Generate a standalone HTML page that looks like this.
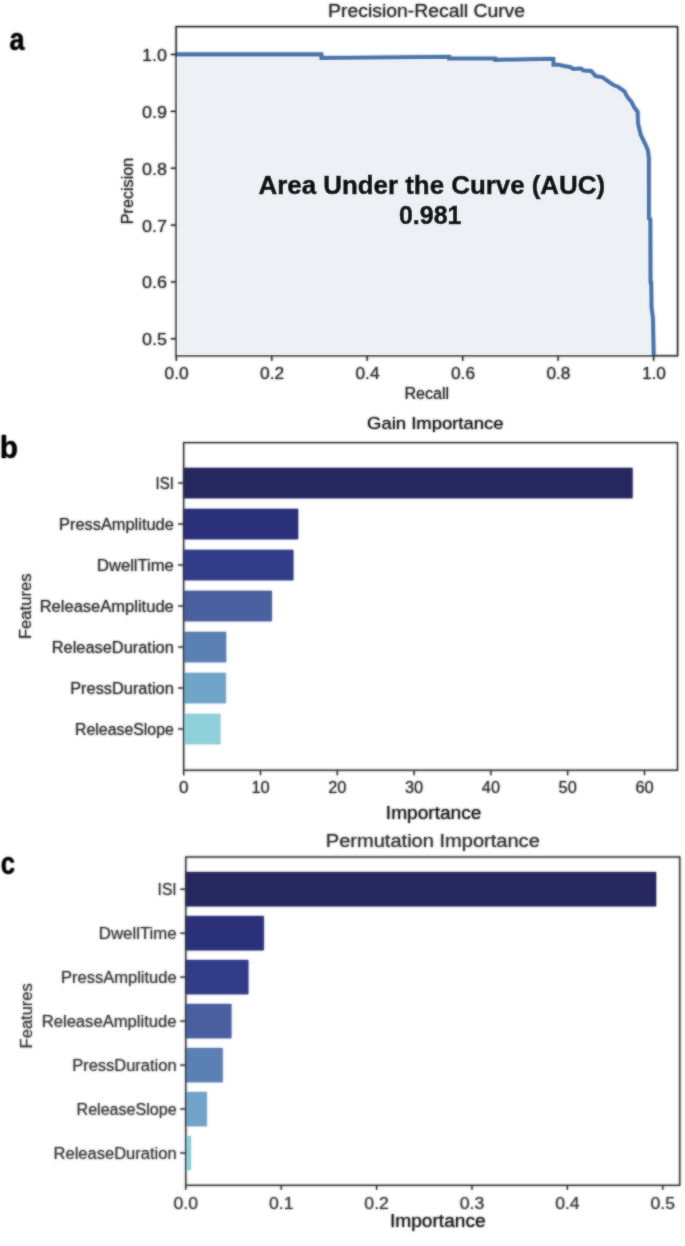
<!DOCTYPE html>
<html><head><meta charset="utf-8"><style>
html,body{margin:0;padding:0;background:#fff;}
svg{display:block;font-family:"Liberation Sans", sans-serif;}

</style></head><body><div id="w">
<svg width="685" height="1246" viewBox="0 0 685 1246">
<defs><filter id="bl" x="-2%" y="-2%" width="104%" height="104%"><feGaussianBlur stdDeviation="0.8"/></filter></defs>
<g filter="url(#bl)">
<text x="9.6" y="49.5" font-size="30.5" text-anchor="start" fill="#000" font-weight="700" textLength="15.0" lengthAdjust="spacingAndGlyphs">a</text>
<text x="-0.3" y="458.4" font-size="31" text-anchor="start" fill="#000" font-weight="700" textLength="18.2" lengthAdjust="spacingAndGlyphs">b</text>
<text x="0.8" y="873.8" font-size="30.5" text-anchor="start" fill="#000" font-weight="700" textLength="14.3" lengthAdjust="spacingAndGlyphs">c</text>
<polygon points="176.0,54.5 321.3,54.5 321.3,58.1 449.0,56.8 449.0,58.5 495.2,58.6 495.2,60.0 552.4,58.9 553.3,59.1 553.3,64.9 558.5,64.9 564.1,66.1 570.5,67.3 572.9,69.1 581.0,68.7 583.4,70.6 591.1,71.1 595.5,76.2 602.5,77.5 608.6,81.9 613.9,85.4 618.3,87.1 624.4,91.5 627.0,96.8 631.4,102.0 634.0,107.3 637.5,111.7 637.9,123.7 640.7,135.0 646.0,146.0 647.8,150.5 648.7,157.4 648.8,218.5 650.2,219.3 650.4,282.2 651.1,282.4 651.4,307.8 652.8,318.0 653.6,355.8 176.1,355.8" fill="#edf1f5"/>
<polyline points="176.0,54.5 321.3,54.5 321.3,58.1 449.0,56.8 449.0,58.5 495.2,58.6 495.2,60.0 552.4,58.9 553.3,59.1 553.3,64.9 558.5,64.9 564.1,66.1 570.5,67.3 572.9,69.1 581.0,68.7 583.4,70.6 591.1,71.1 595.5,76.2 602.5,77.5 608.6,81.9 613.9,85.4 618.3,87.1 624.4,91.5 627.0,96.8 631.4,102.0 634.0,107.3 637.5,111.7 637.9,123.7 640.7,135.0 646.0,146.0 647.8,150.5 648.7,157.4 648.8,218.5 650.2,219.3 650.4,282.2 651.1,282.4 651.4,307.8 652.8,318.0 653.6,355.8" fill="none" stroke="#4672aa" stroke-width="3.8" stroke-linejoin="miter"/>
<rect x="176.1" y="26.6" width="501.5" height="329.2" fill="none" stroke="#222" stroke-width="1.25"/>
<line x1="170.8" y1="54.5" x2="176.1" y2="54.5" stroke="#222" stroke-width="1.25"/>
<text x="167.0" y="61.0" font-size="16" text-anchor="end" fill="#2e2e2e" textLength="25.0" lengthAdjust="spacingAndGlyphs">1.0</text>
<line x1="170.8" y1="111.4" x2="176.1" y2="111.4" stroke="#222" stroke-width="1.25"/>
<text x="167.0" y="117.9" font-size="16" text-anchor="end" fill="#2e2e2e" textLength="25.0" lengthAdjust="spacingAndGlyphs">0.9</text>
<line x1="170.8" y1="168.2" x2="176.1" y2="168.2" stroke="#222" stroke-width="1.25"/>
<text x="167.0" y="174.7" font-size="16" text-anchor="end" fill="#2e2e2e" textLength="25.0" lengthAdjust="spacingAndGlyphs">0.8</text>
<line x1="170.8" y1="225.1" x2="176.1" y2="225.1" stroke="#222" stroke-width="1.25"/>
<text x="167.0" y="231.6" font-size="16" text-anchor="end" fill="#2e2e2e" textLength="25.0" lengthAdjust="spacingAndGlyphs">0.7</text>
<line x1="170.8" y1="281.9" x2="176.1" y2="281.9" stroke="#222" stroke-width="1.25"/>
<text x="167.0" y="288.4" font-size="16" text-anchor="end" fill="#2e2e2e" textLength="25.0" lengthAdjust="spacingAndGlyphs">0.6</text>
<line x1="170.8" y1="338.8" x2="176.1" y2="338.8" stroke="#222" stroke-width="1.25"/>
<text x="167.0" y="345.3" font-size="16" text-anchor="end" fill="#2e2e2e" textLength="25.0" lengthAdjust="spacingAndGlyphs">0.5</text>
<line x1="176.3" y1="355.8" x2="176.3" y2="360.8" stroke="#222" stroke-width="1.25"/>
<text x="176.6" y="378.6" font-size="16" text-anchor="middle" fill="#2e2e2e" textLength="24.0" lengthAdjust="spacingAndGlyphs">0.0</text>
<line x1="271.8" y1="355.8" x2="271.8" y2="360.8" stroke="#222" stroke-width="1.25"/>
<text x="272.1" y="378.6" font-size="16" text-anchor="middle" fill="#2e2e2e" textLength="24.0" lengthAdjust="spacingAndGlyphs">0.2</text>
<line x1="367.2" y1="355.8" x2="367.2" y2="360.8" stroke="#222" stroke-width="1.25"/>
<text x="367.5" y="378.6" font-size="16" text-anchor="middle" fill="#2e2e2e" textLength="24.0" lengthAdjust="spacingAndGlyphs">0.4</text>
<line x1="462.7" y1="355.8" x2="462.7" y2="360.8" stroke="#222" stroke-width="1.25"/>
<text x="463.0" y="378.6" font-size="16" text-anchor="middle" fill="#2e2e2e" textLength="24.0" lengthAdjust="spacingAndGlyphs">0.6</text>
<line x1="558.1" y1="355.8" x2="558.1" y2="360.8" stroke="#222" stroke-width="1.25"/>
<text x="558.4" y="378.6" font-size="16" text-anchor="middle" fill="#2e2e2e" textLength="24.0" lengthAdjust="spacingAndGlyphs">0.8</text>
<line x1="653.6" y1="355.8" x2="653.6" y2="360.8" stroke="#222" stroke-width="1.25"/>
<text x="653.9" y="378.6" font-size="16" text-anchor="middle" fill="#2e2e2e" textLength="24.0" lengthAdjust="spacingAndGlyphs">1.0</text>
<text x="426.8" y="398.9" font-size="16" text-anchor="middle" fill="#2a2a2a" textLength="44.8" lengthAdjust="spacingAndGlyphs">Recall</text>
<text x="133.2" y="191.0" font-size="16.5" text-anchor="middle" fill="#2a2a2a" textLength="66.5" lengthAdjust="spacingAndGlyphs" transform="rotate(-90 133.2 191.0)">Precision</text>
<text x="426.6" y="16.9" font-size="18.7" text-anchor="middle" fill="#2a2a2a" textLength="197.0" lengthAdjust="spacingAndGlyphs">Precision-Recall Curve</text>
<text x="431.8" y="193.8" font-size="26" text-anchor="middle" fill="#000" font-weight="700" textLength="346.5" lengthAdjust="spacingAndGlyphs" stroke="#000" stroke-width="0.5">Area Under the Curve (AUC)</text>
<text x="430.2" y="224.0" font-size="26" text-anchor="middle" fill="#000" font-weight="700" textLength="62.5" lengthAdjust="spacingAndGlyphs" stroke="#000" stroke-width="0.5">0.981</text>
<rect x="183.7" y="467.9" width="448.8" height="30.3" fill="#27285f"/>
<line x1="178.1" y1="483.0" x2="183.7" y2="483.0" stroke="#2e2e2e" stroke-width="1.2"/>
<text x="173.8" y="489.2" font-size="16" text-anchor="end" fill="#333333" textLength="18.2" lengthAdjust="spacingAndGlyphs">ISI</text>
<rect x="183.7" y="508.9" width="114.4" height="30.3" fill="#2c307a"/>
<line x1="178.1" y1="524.0" x2="183.7" y2="524.0" stroke="#2e2e2e" stroke-width="1.2"/>
<text x="173.8" y="530.2" font-size="16" text-anchor="end" fill="#333333" textLength="114.8" lengthAdjust="spacingAndGlyphs">PressAmplitude</text>
<rect x="183.7" y="549.9" width="109.6" height="30.3" fill="#313e88"/>
<line x1="178.1" y1="565.0" x2="183.7" y2="565.0" stroke="#2e2e2e" stroke-width="1.2"/>
<text x="173.8" y="571.2" font-size="16" text-anchor="end" fill="#333333" textLength="76.8" lengthAdjust="spacingAndGlyphs">DwellTime</text>
<rect x="183.7" y="590.9" width="88.1" height="30.3" fill="#4a5f9f"/>
<line x1="178.1" y1="606.0" x2="183.7" y2="606.0" stroke="#2e2e2e" stroke-width="1.2"/>
<text x="173.8" y="612.2" font-size="16" text-anchor="end" fill="#333333" textLength="134.1" lengthAdjust="spacingAndGlyphs">ReleaseAmplitude</text>
<rect x="183.7" y="631.9" width="42.4" height="30.3" fill="#5b80b3"/>
<line x1="178.1" y1="647.0" x2="183.7" y2="647.0" stroke="#2e2e2e" stroke-width="1.2"/>
<text x="173.8" y="653.2" font-size="16" text-anchor="end" fill="#333333" textLength="122.1" lengthAdjust="spacingAndGlyphs">ReleaseDuration</text>
<rect x="183.7" y="672.9" width="42.1" height="30.3" fill="#70a4c9"/>
<line x1="178.1" y1="688.0" x2="183.7" y2="688.0" stroke="#2e2e2e" stroke-width="1.2"/>
<text x="173.8" y="694.2" font-size="16" text-anchor="end" fill="#333333" textLength="103.6" lengthAdjust="spacingAndGlyphs">PressDuration</text>
<rect x="183.7" y="713.9" width="36.7" height="30.3" fill="#90d0db"/>
<line x1="178.1" y1="729.0" x2="183.7" y2="729.0" stroke="#2e2e2e" stroke-width="1.2"/>
<text x="173.8" y="735.2" font-size="16" text-anchor="end" fill="#333333" textLength="98.8" lengthAdjust="spacingAndGlyphs">ReleaseSlope</text>
<rect x="183.7" y="442.6" width="493.8" height="327.6" fill="none" stroke="#2e2e2e" stroke-width="1.2"/>
<line x1="183.7" y1="770.2" x2="183.7" y2="775.2" stroke="#2e2e2e" stroke-width="1.2"/>
<text x="183.7" y="793.0" font-size="16" text-anchor="middle" fill="#333333" textLength="9.5" lengthAdjust="spacingAndGlyphs">0</text>
<line x1="260.5" y1="770.2" x2="260.5" y2="775.2" stroke="#2e2e2e" stroke-width="1.2"/>
<text x="260.5" y="793.0" font-size="16" text-anchor="middle" fill="#333333" textLength="18.2" lengthAdjust="spacingAndGlyphs">10</text>
<line x1="337.3" y1="770.2" x2="337.3" y2="775.2" stroke="#2e2e2e" stroke-width="1.2"/>
<text x="337.3" y="793.0" font-size="16" text-anchor="middle" fill="#333333" textLength="18.2" lengthAdjust="spacingAndGlyphs">20</text>
<line x1="414.1" y1="770.2" x2="414.1" y2="775.2" stroke="#2e2e2e" stroke-width="1.2"/>
<text x="414.1" y="793.0" font-size="16" text-anchor="middle" fill="#333333" textLength="18.2" lengthAdjust="spacingAndGlyphs">30</text>
<line x1="490.9" y1="770.2" x2="490.9" y2="775.2" stroke="#2e2e2e" stroke-width="1.2"/>
<text x="490.9" y="793.0" font-size="16" text-anchor="middle" fill="#333333" textLength="18.2" lengthAdjust="spacingAndGlyphs">40</text>
<line x1="567.7" y1="770.2" x2="567.7" y2="775.2" stroke="#2e2e2e" stroke-width="1.2"/>
<text x="567.7" y="793.0" font-size="16" text-anchor="middle" fill="#333333" textLength="18.2" lengthAdjust="spacingAndGlyphs">50</text>
<line x1="644.5" y1="770.2" x2="644.5" y2="775.2" stroke="#2e2e2e" stroke-width="1.2"/>
<text x="644.5" y="793.0" font-size="16" text-anchor="middle" fill="#333333" textLength="18.2" lengthAdjust="spacingAndGlyphs">60</text>
<text x="433.6" y="818.9" font-size="18" text-anchor="middle" fill="#141414" textLength="95.5" lengthAdjust="spacingAndGlyphs">Importance</text>
<text x="435.3" y="429.1" font-size="17" text-anchor="middle" fill="#141414" textLength="136.5" lengthAdjust="spacingAndGlyphs">Gain Importance</text>
<text x="31.0" y="606.3" font-size="16" text-anchor="middle" fill="#333333" textLength="65.5" lengthAdjust="spacingAndGlyphs" transform="rotate(-90 31.0 606.3)">Features</text>
<rect x="185.8" y="872.1" width="470.3" height="34.2" fill="#27285f"/>
<line x1="180.2" y1="889.2" x2="185.8" y2="889.2" stroke="#2e2e2e" stroke-width="1.2"/>
<text x="176.6" y="895.2" font-size="16" text-anchor="end" fill="#3d3d3d" textLength="19.0" lengthAdjust="spacingAndGlyphs">ISI</text>
<rect x="185.8" y="916.1" width="77.9" height="34.2" fill="#2c307a"/>
<line x1="180.2" y1="933.2" x2="185.8" y2="933.2" stroke="#2e2e2e" stroke-width="1.2"/>
<text x="176.6" y="939.2" font-size="16" text-anchor="end" fill="#3d3d3d" textLength="77.8" lengthAdjust="spacingAndGlyphs">DwellTime</text>
<rect x="185.8" y="960.0" width="62.5" height="34.2" fill="#313e88"/>
<line x1="180.2" y1="977.1" x2="185.8" y2="977.1" stroke="#2e2e2e" stroke-width="1.2"/>
<text x="176.6" y="983.1" font-size="16" text-anchor="end" fill="#3d3d3d" textLength="115.5" lengthAdjust="spacingAndGlyphs">PressAmplitude</text>
<rect x="185.8" y="1004.0" width="45.5" height="34.2" fill="#4a5f9f"/>
<line x1="180.2" y1="1021.1" x2="185.8" y2="1021.1" stroke="#2e2e2e" stroke-width="1.2"/>
<text x="176.6" y="1027.1" font-size="16" text-anchor="end" fill="#3d3d3d" textLength="134.9" lengthAdjust="spacingAndGlyphs">ReleaseAmplitude</text>
<rect x="185.8" y="1048.0" width="36.8" height="34.2" fill="#5b80b3"/>
<line x1="180.2" y1="1065.1" x2="185.8" y2="1065.1" stroke="#2e2e2e" stroke-width="1.2"/>
<text x="176.6" y="1071.1" font-size="16" text-anchor="end" fill="#3d3d3d" textLength="104.4" lengthAdjust="spacingAndGlyphs">PressDuration</text>
<rect x="185.8" y="1092.0" width="21.0" height="34.2" fill="#70a4c9"/>
<line x1="180.2" y1="1109.0" x2="185.8" y2="1109.0" stroke="#2e2e2e" stroke-width="1.2"/>
<text x="176.6" y="1115.0" font-size="16" text-anchor="end" fill="#3d3d3d" textLength="100.0" lengthAdjust="spacingAndGlyphs">ReleaseSlope</text>
<rect x="185.8" y="1135.9" width="5.2" height="34.2" fill="#90d0db"/>
<line x1="180.2" y1="1153.0" x2="185.8" y2="1153.0" stroke="#2e2e2e" stroke-width="1.2"/>
<text x="176.6" y="1159.0" font-size="16" text-anchor="end" fill="#3d3d3d" textLength="123.0" lengthAdjust="spacingAndGlyphs">ReleaseDuration</text>
<rect x="185.8" y="857.0" width="494.0" height="328.3" fill="none" stroke="#2e2e2e" stroke-width="1.2"/>
<line x1="185.8" y1="1185.3" x2="185.8" y2="1189.8" stroke="#2e2e2e" stroke-width="1.2"/>
<text x="185.8" y="1209.2" font-size="16" text-anchor="middle" fill="#3d3d3d" textLength="24.5" lengthAdjust="spacingAndGlyphs">0.0</text>
<line x1="281.2" y1="1185.3" x2="281.2" y2="1189.8" stroke="#2e2e2e" stroke-width="1.2"/>
<text x="281.2" y="1209.2" font-size="16" text-anchor="middle" fill="#3d3d3d" textLength="24.5" lengthAdjust="spacingAndGlyphs">0.1</text>
<line x1="376.6" y1="1185.3" x2="376.6" y2="1189.8" stroke="#2e2e2e" stroke-width="1.2"/>
<text x="376.6" y="1209.2" font-size="16" text-anchor="middle" fill="#3d3d3d" textLength="24.5" lengthAdjust="spacingAndGlyphs">0.2</text>
<line x1="472.0" y1="1185.3" x2="472.0" y2="1189.8" stroke="#2e2e2e" stroke-width="1.2"/>
<text x="472.0" y="1209.2" font-size="16" text-anchor="middle" fill="#3d3d3d" textLength="24.5" lengthAdjust="spacingAndGlyphs">0.3</text>
<line x1="567.4" y1="1185.3" x2="567.4" y2="1189.8" stroke="#2e2e2e" stroke-width="1.2"/>
<text x="567.4" y="1209.2" font-size="16" text-anchor="middle" fill="#3d3d3d" textLength="24.5" lengthAdjust="spacingAndGlyphs">0.4</text>
<line x1="662.8" y1="1185.3" x2="662.8" y2="1189.8" stroke="#2e2e2e" stroke-width="1.2"/>
<text x="662.8" y="1209.2" font-size="16" text-anchor="middle" fill="#3d3d3d" textLength="24.5" lengthAdjust="spacingAndGlyphs">0.5</text>
<text x="437.8" y="1227.3" font-size="18" text-anchor="middle" fill="#141414" textLength="95.5" lengthAdjust="spacingAndGlyphs">Importance</text>
<text x="432.8" y="847.4" font-size="18" text-anchor="middle" fill="#333" textLength="214.0" lengthAdjust="spacingAndGlyphs">Permutation Importance</text>
<text x="31.6" y="1015.8" font-size="16" text-anchor="middle" fill="#3d3d3d" textLength="65.2" lengthAdjust="spacingAndGlyphs" transform="rotate(-90 31.6 1015.8)">Features</text>
</g>
<g opacity="0.6">
<text x="9.6" y="49.5" font-size="30.5" text-anchor="start" fill="#000" font-weight="700" textLength="15.0" lengthAdjust="spacingAndGlyphs">a</text>
<text x="-0.3" y="458.4" font-size="31" text-anchor="start" fill="#000" font-weight="700" textLength="18.2" lengthAdjust="spacingAndGlyphs">b</text>
<text x="0.8" y="873.8" font-size="30.5" text-anchor="start" fill="#000" font-weight="700" textLength="14.3" lengthAdjust="spacingAndGlyphs">c</text>
<polygon points="176.0,54.5 321.3,54.5 321.3,58.1 449.0,56.8 449.0,58.5 495.2,58.6 495.2,60.0 552.4,58.9 553.3,59.1 553.3,64.9 558.5,64.9 564.1,66.1 570.5,67.3 572.9,69.1 581.0,68.7 583.4,70.6 591.1,71.1 595.5,76.2 602.5,77.5 608.6,81.9 613.9,85.4 618.3,87.1 624.4,91.5 627.0,96.8 631.4,102.0 634.0,107.3 637.5,111.7 637.9,123.7 640.7,135.0 646.0,146.0 647.8,150.5 648.7,157.4 648.8,218.5 650.2,219.3 650.4,282.2 651.1,282.4 651.4,307.8 652.8,318.0 653.6,355.8 176.1,355.8" fill="#edf1f5"/>
<polyline points="176.0,54.5 321.3,54.5 321.3,58.1 449.0,56.8 449.0,58.5 495.2,58.6 495.2,60.0 552.4,58.9 553.3,59.1 553.3,64.9 558.5,64.9 564.1,66.1 570.5,67.3 572.9,69.1 581.0,68.7 583.4,70.6 591.1,71.1 595.5,76.2 602.5,77.5 608.6,81.9 613.9,85.4 618.3,87.1 624.4,91.5 627.0,96.8 631.4,102.0 634.0,107.3 637.5,111.7 637.9,123.7 640.7,135.0 646.0,146.0 647.8,150.5 648.7,157.4 648.8,218.5 650.2,219.3 650.4,282.2 651.1,282.4 651.4,307.8 652.8,318.0 653.6,355.8" fill="none" stroke="#4672aa" stroke-width="3.8" stroke-linejoin="miter"/>
<rect x="176.1" y="26.6" width="501.5" height="329.2" fill="none" stroke="#222" stroke-width="1.25"/>
<line x1="170.8" y1="54.5" x2="176.1" y2="54.5" stroke="#222" stroke-width="1.25"/>
<text x="167.0" y="61.0" font-size="16" text-anchor="end" fill="#2e2e2e" textLength="25.0" lengthAdjust="spacingAndGlyphs">1.0</text>
<line x1="170.8" y1="111.4" x2="176.1" y2="111.4" stroke="#222" stroke-width="1.25"/>
<text x="167.0" y="117.9" font-size="16" text-anchor="end" fill="#2e2e2e" textLength="25.0" lengthAdjust="spacingAndGlyphs">0.9</text>
<line x1="170.8" y1="168.2" x2="176.1" y2="168.2" stroke="#222" stroke-width="1.25"/>
<text x="167.0" y="174.7" font-size="16" text-anchor="end" fill="#2e2e2e" textLength="25.0" lengthAdjust="spacingAndGlyphs">0.8</text>
<line x1="170.8" y1="225.1" x2="176.1" y2="225.1" stroke="#222" stroke-width="1.25"/>
<text x="167.0" y="231.6" font-size="16" text-anchor="end" fill="#2e2e2e" textLength="25.0" lengthAdjust="spacingAndGlyphs">0.7</text>
<line x1="170.8" y1="281.9" x2="176.1" y2="281.9" stroke="#222" stroke-width="1.25"/>
<text x="167.0" y="288.4" font-size="16" text-anchor="end" fill="#2e2e2e" textLength="25.0" lengthAdjust="spacingAndGlyphs">0.6</text>
<line x1="170.8" y1="338.8" x2="176.1" y2="338.8" stroke="#222" stroke-width="1.25"/>
<text x="167.0" y="345.3" font-size="16" text-anchor="end" fill="#2e2e2e" textLength="25.0" lengthAdjust="spacingAndGlyphs">0.5</text>
<line x1="176.3" y1="355.8" x2="176.3" y2="360.8" stroke="#222" stroke-width="1.25"/>
<text x="176.6" y="378.6" font-size="16" text-anchor="middle" fill="#2e2e2e" textLength="24.0" lengthAdjust="spacingAndGlyphs">0.0</text>
<line x1="271.8" y1="355.8" x2="271.8" y2="360.8" stroke="#222" stroke-width="1.25"/>
<text x="272.1" y="378.6" font-size="16" text-anchor="middle" fill="#2e2e2e" textLength="24.0" lengthAdjust="spacingAndGlyphs">0.2</text>
<line x1="367.2" y1="355.8" x2="367.2" y2="360.8" stroke="#222" stroke-width="1.25"/>
<text x="367.5" y="378.6" font-size="16" text-anchor="middle" fill="#2e2e2e" textLength="24.0" lengthAdjust="spacingAndGlyphs">0.4</text>
<line x1="462.7" y1="355.8" x2="462.7" y2="360.8" stroke="#222" stroke-width="1.25"/>
<text x="463.0" y="378.6" font-size="16" text-anchor="middle" fill="#2e2e2e" textLength="24.0" lengthAdjust="spacingAndGlyphs">0.6</text>
<line x1="558.1" y1="355.8" x2="558.1" y2="360.8" stroke="#222" stroke-width="1.25"/>
<text x="558.4" y="378.6" font-size="16" text-anchor="middle" fill="#2e2e2e" textLength="24.0" lengthAdjust="spacingAndGlyphs">0.8</text>
<line x1="653.6" y1="355.8" x2="653.6" y2="360.8" stroke="#222" stroke-width="1.25"/>
<text x="653.9" y="378.6" font-size="16" text-anchor="middle" fill="#2e2e2e" textLength="24.0" lengthAdjust="spacingAndGlyphs">1.0</text>
<text x="426.8" y="398.9" font-size="16" text-anchor="middle" fill="#2a2a2a" textLength="44.8" lengthAdjust="spacingAndGlyphs">Recall</text>
<text x="133.2" y="191.0" font-size="16.5" text-anchor="middle" fill="#2a2a2a" textLength="66.5" lengthAdjust="spacingAndGlyphs" transform="rotate(-90 133.2 191.0)">Precision</text>
<text x="426.6" y="16.9" font-size="18.7" text-anchor="middle" fill="#2a2a2a" textLength="197.0" lengthAdjust="spacingAndGlyphs">Precision-Recall Curve</text>
<text x="431.8" y="193.8" font-size="26" text-anchor="middle" fill="#000" font-weight="700" textLength="346.5" lengthAdjust="spacingAndGlyphs" stroke="#000" stroke-width="0.5">Area Under the Curve (AUC)</text>
<text x="430.2" y="224.0" font-size="26" text-anchor="middle" fill="#000" font-weight="700" textLength="62.5" lengthAdjust="spacingAndGlyphs" stroke="#000" stroke-width="0.5">0.981</text>
<rect x="183.7" y="467.9" width="448.8" height="30.3" fill="#27285f"/>
<line x1="178.1" y1="483.0" x2="183.7" y2="483.0" stroke="#2e2e2e" stroke-width="1.2"/>
<text x="173.8" y="489.2" font-size="16" text-anchor="end" fill="#333333" textLength="18.2" lengthAdjust="spacingAndGlyphs">ISI</text>
<rect x="183.7" y="508.9" width="114.4" height="30.3" fill="#2c307a"/>
<line x1="178.1" y1="524.0" x2="183.7" y2="524.0" stroke="#2e2e2e" stroke-width="1.2"/>
<text x="173.8" y="530.2" font-size="16" text-anchor="end" fill="#333333" textLength="114.8" lengthAdjust="spacingAndGlyphs">PressAmplitude</text>
<rect x="183.7" y="549.9" width="109.6" height="30.3" fill="#313e88"/>
<line x1="178.1" y1="565.0" x2="183.7" y2="565.0" stroke="#2e2e2e" stroke-width="1.2"/>
<text x="173.8" y="571.2" font-size="16" text-anchor="end" fill="#333333" textLength="76.8" lengthAdjust="spacingAndGlyphs">DwellTime</text>
<rect x="183.7" y="590.9" width="88.1" height="30.3" fill="#4a5f9f"/>
<line x1="178.1" y1="606.0" x2="183.7" y2="606.0" stroke="#2e2e2e" stroke-width="1.2"/>
<text x="173.8" y="612.2" font-size="16" text-anchor="end" fill="#333333" textLength="134.1" lengthAdjust="spacingAndGlyphs">ReleaseAmplitude</text>
<rect x="183.7" y="631.9" width="42.4" height="30.3" fill="#5b80b3"/>
<line x1="178.1" y1="647.0" x2="183.7" y2="647.0" stroke="#2e2e2e" stroke-width="1.2"/>
<text x="173.8" y="653.2" font-size="16" text-anchor="end" fill="#333333" textLength="122.1" lengthAdjust="spacingAndGlyphs">ReleaseDuration</text>
<rect x="183.7" y="672.9" width="42.1" height="30.3" fill="#70a4c9"/>
<line x1="178.1" y1="688.0" x2="183.7" y2="688.0" stroke="#2e2e2e" stroke-width="1.2"/>
<text x="173.8" y="694.2" font-size="16" text-anchor="end" fill="#333333" textLength="103.6" lengthAdjust="spacingAndGlyphs">PressDuration</text>
<rect x="183.7" y="713.9" width="36.7" height="30.3" fill="#90d0db"/>
<line x1="178.1" y1="729.0" x2="183.7" y2="729.0" stroke="#2e2e2e" stroke-width="1.2"/>
<text x="173.8" y="735.2" font-size="16" text-anchor="end" fill="#333333" textLength="98.8" lengthAdjust="spacingAndGlyphs">ReleaseSlope</text>
<rect x="183.7" y="442.6" width="493.8" height="327.6" fill="none" stroke="#2e2e2e" stroke-width="1.2"/>
<line x1="183.7" y1="770.2" x2="183.7" y2="775.2" stroke="#2e2e2e" stroke-width="1.2"/>
<text x="183.7" y="793.0" font-size="16" text-anchor="middle" fill="#333333" textLength="9.5" lengthAdjust="spacingAndGlyphs">0</text>
<line x1="260.5" y1="770.2" x2="260.5" y2="775.2" stroke="#2e2e2e" stroke-width="1.2"/>
<text x="260.5" y="793.0" font-size="16" text-anchor="middle" fill="#333333" textLength="18.2" lengthAdjust="spacingAndGlyphs">10</text>
<line x1="337.3" y1="770.2" x2="337.3" y2="775.2" stroke="#2e2e2e" stroke-width="1.2"/>
<text x="337.3" y="793.0" font-size="16" text-anchor="middle" fill="#333333" textLength="18.2" lengthAdjust="spacingAndGlyphs">20</text>
<line x1="414.1" y1="770.2" x2="414.1" y2="775.2" stroke="#2e2e2e" stroke-width="1.2"/>
<text x="414.1" y="793.0" font-size="16" text-anchor="middle" fill="#333333" textLength="18.2" lengthAdjust="spacingAndGlyphs">30</text>
<line x1="490.9" y1="770.2" x2="490.9" y2="775.2" stroke="#2e2e2e" stroke-width="1.2"/>
<text x="490.9" y="793.0" font-size="16" text-anchor="middle" fill="#333333" textLength="18.2" lengthAdjust="spacingAndGlyphs">40</text>
<line x1="567.7" y1="770.2" x2="567.7" y2="775.2" stroke="#2e2e2e" stroke-width="1.2"/>
<text x="567.7" y="793.0" font-size="16" text-anchor="middle" fill="#333333" textLength="18.2" lengthAdjust="spacingAndGlyphs">50</text>
<line x1="644.5" y1="770.2" x2="644.5" y2="775.2" stroke="#2e2e2e" stroke-width="1.2"/>
<text x="644.5" y="793.0" font-size="16" text-anchor="middle" fill="#333333" textLength="18.2" lengthAdjust="spacingAndGlyphs">60</text>
<text x="433.6" y="818.9" font-size="18" text-anchor="middle" fill="#141414" textLength="95.5" lengthAdjust="spacingAndGlyphs">Importance</text>
<text x="435.3" y="429.1" font-size="17" text-anchor="middle" fill="#141414" textLength="136.5" lengthAdjust="spacingAndGlyphs">Gain Importance</text>
<text x="31.0" y="606.3" font-size="16" text-anchor="middle" fill="#333333" textLength="65.5" lengthAdjust="spacingAndGlyphs" transform="rotate(-90 31.0 606.3)">Features</text>
<rect x="185.8" y="872.1" width="470.3" height="34.2" fill="#27285f"/>
<line x1="180.2" y1="889.2" x2="185.8" y2="889.2" stroke="#2e2e2e" stroke-width="1.2"/>
<text x="176.6" y="895.2" font-size="16" text-anchor="end" fill="#3d3d3d" textLength="19.0" lengthAdjust="spacingAndGlyphs">ISI</text>
<rect x="185.8" y="916.1" width="77.9" height="34.2" fill="#2c307a"/>
<line x1="180.2" y1="933.2" x2="185.8" y2="933.2" stroke="#2e2e2e" stroke-width="1.2"/>
<text x="176.6" y="939.2" font-size="16" text-anchor="end" fill="#3d3d3d" textLength="77.8" lengthAdjust="spacingAndGlyphs">DwellTime</text>
<rect x="185.8" y="960.0" width="62.5" height="34.2" fill="#313e88"/>
<line x1="180.2" y1="977.1" x2="185.8" y2="977.1" stroke="#2e2e2e" stroke-width="1.2"/>
<text x="176.6" y="983.1" font-size="16" text-anchor="end" fill="#3d3d3d" textLength="115.5" lengthAdjust="spacingAndGlyphs">PressAmplitude</text>
<rect x="185.8" y="1004.0" width="45.5" height="34.2" fill="#4a5f9f"/>
<line x1="180.2" y1="1021.1" x2="185.8" y2="1021.1" stroke="#2e2e2e" stroke-width="1.2"/>
<text x="176.6" y="1027.1" font-size="16" text-anchor="end" fill="#3d3d3d" textLength="134.9" lengthAdjust="spacingAndGlyphs">ReleaseAmplitude</text>
<rect x="185.8" y="1048.0" width="36.8" height="34.2" fill="#5b80b3"/>
<line x1="180.2" y1="1065.1" x2="185.8" y2="1065.1" stroke="#2e2e2e" stroke-width="1.2"/>
<text x="176.6" y="1071.1" font-size="16" text-anchor="end" fill="#3d3d3d" textLength="104.4" lengthAdjust="spacingAndGlyphs">PressDuration</text>
<rect x="185.8" y="1092.0" width="21.0" height="34.2" fill="#70a4c9"/>
<line x1="180.2" y1="1109.0" x2="185.8" y2="1109.0" stroke="#2e2e2e" stroke-width="1.2"/>
<text x="176.6" y="1115.0" font-size="16" text-anchor="end" fill="#3d3d3d" textLength="100.0" lengthAdjust="spacingAndGlyphs">ReleaseSlope</text>
<rect x="185.8" y="1135.9" width="5.2" height="34.2" fill="#90d0db"/>
<line x1="180.2" y1="1153.0" x2="185.8" y2="1153.0" stroke="#2e2e2e" stroke-width="1.2"/>
<text x="176.6" y="1159.0" font-size="16" text-anchor="end" fill="#3d3d3d" textLength="123.0" lengthAdjust="spacingAndGlyphs">ReleaseDuration</text>
<rect x="185.8" y="857.0" width="494.0" height="328.3" fill="none" stroke="#2e2e2e" stroke-width="1.2"/>
<line x1="185.8" y1="1185.3" x2="185.8" y2="1189.8" stroke="#2e2e2e" stroke-width="1.2"/>
<text x="185.8" y="1209.2" font-size="16" text-anchor="middle" fill="#3d3d3d" textLength="24.5" lengthAdjust="spacingAndGlyphs">0.0</text>
<line x1="281.2" y1="1185.3" x2="281.2" y2="1189.8" stroke="#2e2e2e" stroke-width="1.2"/>
<text x="281.2" y="1209.2" font-size="16" text-anchor="middle" fill="#3d3d3d" textLength="24.5" lengthAdjust="spacingAndGlyphs">0.1</text>
<line x1="376.6" y1="1185.3" x2="376.6" y2="1189.8" stroke="#2e2e2e" stroke-width="1.2"/>
<text x="376.6" y="1209.2" font-size="16" text-anchor="middle" fill="#3d3d3d" textLength="24.5" lengthAdjust="spacingAndGlyphs">0.2</text>
<line x1="472.0" y1="1185.3" x2="472.0" y2="1189.8" stroke="#2e2e2e" stroke-width="1.2"/>
<text x="472.0" y="1209.2" font-size="16" text-anchor="middle" fill="#3d3d3d" textLength="24.5" lengthAdjust="spacingAndGlyphs">0.3</text>
<line x1="567.4" y1="1185.3" x2="567.4" y2="1189.8" stroke="#2e2e2e" stroke-width="1.2"/>
<text x="567.4" y="1209.2" font-size="16" text-anchor="middle" fill="#3d3d3d" textLength="24.5" lengthAdjust="spacingAndGlyphs">0.4</text>
<line x1="662.8" y1="1185.3" x2="662.8" y2="1189.8" stroke="#2e2e2e" stroke-width="1.2"/>
<text x="662.8" y="1209.2" font-size="16" text-anchor="middle" fill="#3d3d3d" textLength="24.5" lengthAdjust="spacingAndGlyphs">0.5</text>
<text x="437.8" y="1227.3" font-size="18" text-anchor="middle" fill="#141414" textLength="95.5" lengthAdjust="spacingAndGlyphs">Importance</text>
<text x="432.8" y="847.4" font-size="18" text-anchor="middle" fill="#333" textLength="214.0" lengthAdjust="spacingAndGlyphs">Permutation Importance</text>
<text x="31.6" y="1015.8" font-size="16" text-anchor="middle" fill="#3d3d3d" textLength="65.2" lengthAdjust="spacingAndGlyphs" transform="rotate(-90 31.6 1015.8)">Features</text>
</g>
</svg></div>
</body></html>
